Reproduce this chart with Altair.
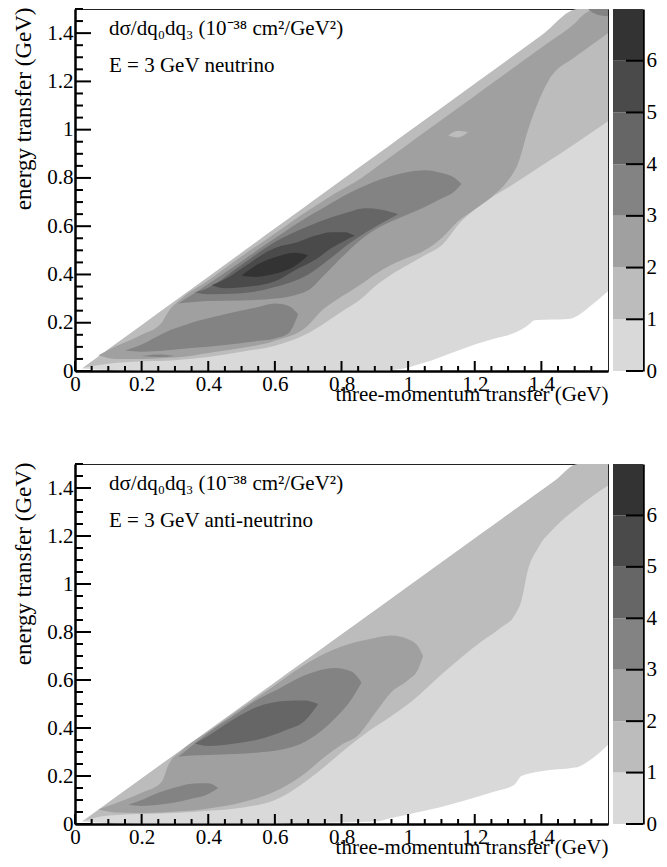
import altair as alt
import pandas as pd

FONT = "Liberation Serif"
FS = 21
LEVEL_COLORS = ["#d9d9d9", "#bcbcbc", "#a0a0a0", "#838383", "#666666", "#4a4a4a", "#333333"]
CBAR_LO = [0, 1, 2, 3, 4, 5, 6]
CBAR_HI = [1, 2, 3, 4, 5, 6, 7]
CBAR_TICKS = [0, 1, 2, 3, 4, 5, 6]

X_MAJOR = [0, 0.2, 0.4, 0.6, 0.8, 1.0, 1.2, 1.4]
X_MINOR = [0.05, 0.1, 0.15, 0.25, 0.3, 0.35, 0.45, 0.5, 0.55, 0.65, 0.7, 0.75,
           0.85, 0.9, 0.95, 1.05, 1.1, 1.15, 1.25, 1.3, 1.35, 1.45, 1.5, 1.55]
Y_MAJOR = [0, 0.2, 0.4, 0.6, 0.8, 1.0, 1.2, 1.4]
Y_MINOR = [0.05, 0.1, 0.15, 0.25, 0.3, 0.35, 0.45, 0.5, 0.55, 0.65, 0.7, 0.75,
           0.85, 0.9, 0.95, 1.05, 1.1, 1.15, 1.25, 1.3, 1.35, 1.45, 1.5]

# ---------------- neutrino (top panel) : contour bands (q3, lower q0, upper q0)
NU_L0_Q3 = [0.02, 0.1, 0.3, 0.6, 0.93, 1.0, 1.05, 1.13, 1.2, 1.26, 1.32, 1.36, 1.38, 1.48, 1.51, 1.53, 1.6]
NU_L0_LO = [0.01, 0.004, 0.003, 0.003, 0.003, 0.015, 0.035, 0.075, 0.11, 0.135, 0.158, 0.19, 0.21, 0.215, 0.23, 0.25, 0.33]
NU_L0_HI = [0.01, 0.09, 0.29, 0.59, 0.92, 0.99, 1.04, 1.12, 1.19, 1.25, 1.31, 1.35, 1.37, 1.47, 1.5, 1.5, 1.5]

NU_L1_Q3 = [0.025, 0.1, 0.2, 0.3, 0.4, 0.5, 0.6, 0.69, 0.74, 0.8, 0.86, 0.9, 0.95, 1.0, 1.05, 1.1, 1.16, 1.22, 1.3, 1.4, 1.51, 1.6]
NU_L1_LO = [0.013, 0.03, 0.04, 0.045, 0.058, 0.08, 0.105, 0.15, 0.19, 0.245, 0.30, 0.35, 0.40, 0.44, 0.48, 0.52, 0.62, 0.69, 0.76, 0.85, 0.95, 1.035]
NU_L1_HI = [0.013, 0.09, 0.19, 0.29, 0.39, 0.49, 0.59, 0.68, 0.73, 0.79, 0.85, 0.89, 0.94, 0.99, 1.04, 1.09, 1.15, 1.21, 1.29, 1.39, 1.5, 1.5]

NU_L2_Q3 = [0.07, 0.12, 0.2, 0.26, 0.28, 0.32, 0.4, 0.5, 0.6, 0.7, 0.74, 0.78, 0.86, 0.9, 0.95, 1.0, 1.05, 1.1, 1.15, 1.2, 1.25, 1.3, 1.33, 1.36, 1.42, 1.5, 1.53, 1.56, 1.6]
NU_L2_LO = [0.065, 0.05, 0.05, 0.053, 0.055, 0.058, 0.075, 0.095, 0.125, 0.19, 0.25, 0.29, 0.36, 0.40, 0.44, 0.47, 0.50, 0.55, 0.62, 0.67, 0.72, 0.79, 0.86, 1.0, 1.2, 1.30, 1.33, 1.36, 1.40]
NU_L2_HI = [0.065, 0.10, 0.15, 0.20, 0.245, 0.30, 0.375, 0.475, 0.57, 0.665, 0.70, 0.735, 0.80, 0.84, 0.89, 0.94, 0.99, 1.04, 1.09, 1.14, 1.19, 1.24, 1.27, 1.30, 1.36, 1.44, 1.48, 1.5, 1.5]

NU_HOLE_Q3 = [1.12, 1.15, 1.18]
NU_HOLE_LO = [0.975, 0.968, 0.99]
NU_HOLE_HI = [0.975, 0.995, 0.99]

NU_L3A_Q3 = [0.31, 0.35, 0.4, 0.5, 0.6, 0.7, 0.75, 0.8, 0.85, 0.9, 1.0, 1.05, 1.1, 1.14, 1.16]
NU_L3A_LO = [0.28, 0.285, 0.29, 0.292, 0.30, 0.335, 0.40, 0.47, 0.535, 0.585, 0.65, 0.68, 0.715, 0.745, 0.775]
NU_L3A_HI = [0.28, 0.315, 0.36, 0.455, 0.55, 0.64, 0.68, 0.72, 0.755, 0.785, 0.825, 0.832, 0.82, 0.80, 0.775]

NU_L3B_Q3 = [0.15, 0.2, 0.27, 0.35, 0.45, 0.55, 0.6, 0.64, 0.67]
NU_L3B_LO = [0.085, 0.08, 0.085, 0.095, 0.108, 0.125, 0.135, 0.155, 0.235]
NU_L3B_HI = [0.085, 0.11, 0.16, 0.20, 0.235, 0.265, 0.28, 0.27, 0.235]

NU_L3C_Q3 = [0.20, 0.25, 0.30]
NU_L3C_LO = [0.062, 0.058, 0.062]
NU_L3C_HI = [0.062, 0.068, 0.062]

NU_L3D_Q3 = [1.54, 1.57, 1.6]
NU_L3D_LO = [1.5, 1.475, 1.47]
NU_L3D_HI = [1.5, 1.5, 1.5]

NU_L4_Q3 = [0.36, 0.4, 0.5, 0.6, 0.7, 0.77, 0.82, 0.87, 0.92, 0.97]
NU_L4_LO = [0.325, 0.318, 0.322, 0.348, 0.40, 0.47, 0.525, 0.572, 0.612, 0.65]
NU_L4_HI = [0.325, 0.345, 0.44, 0.535, 0.60, 0.637, 0.658, 0.674, 0.668, 0.65]

NU_L5_Q3 = [0.41, 0.45, 0.5, 0.6, 0.67, 0.72, 0.77, 0.81, 0.84]
NU_L5_LO = [0.355, 0.343, 0.347, 0.372, 0.425, 0.46, 0.51, 0.54, 0.56]
NU_L5_HI = [0.355, 0.38, 0.425, 0.51, 0.535, 0.56, 0.575, 0.575, 0.56]

NU_L6_Q3 = [0.50, 0.54, 0.58, 0.62, 0.66, 0.70]
NU_L6_LO = [0.395, 0.39, 0.397, 0.41, 0.435, 0.48]
NU_L6_HI = [0.395, 0.435, 0.462, 0.48, 0.49, 0.48]

# ---------------- anti-neutrino (bottom panel)
NB_L0_Q3 = [0.02, 0.1, 0.3, 0.6, 0.9, 0.95, 1.0, 1.05, 1.13, 1.2, 1.26, 1.32, 1.34, 1.4, 1.5, 1.51, 1.54, 1.6]
NB_L0_LO = [0.01, 0.004, 0.003, 0.003, 0.01, 0.025, 0.04, 0.055, 0.082, 0.11, 0.135, 0.165, 0.2, 0.22, 0.235, 0.238, 0.26, 0.33]
NB_L0_HI = [0.01, 0.09, 0.29, 0.59, 0.89, 0.94, 0.99, 1.04, 1.12, 1.19, 1.25, 1.31, 1.33, 1.39, 1.49, 1.5, 1.5, 1.5]

NB_L1_Q3 = [0.025, 0.1, 0.2, 0.3, 0.4, 0.5, 0.6, 0.68, 0.75, 0.81, 0.88, 0.95, 1.01, 1.11, 1.22, 1.28, 1.32, 1.34, 1.36, 1.39, 1.44, 1.51, 1.6]
NB_L1_LO = [0.013, 0.035, 0.042, 0.046, 0.055, 0.068, 0.10, 0.165, 0.24, 0.31, 0.385, 0.45, 0.51, 0.635, 0.76, 0.82, 0.87, 0.93, 1.06, 1.15, 1.235, 1.32, 1.41]
NB_L1_HI = [0.013, 0.09, 0.19, 0.29, 0.39, 0.49, 0.59, 0.67, 0.74, 0.80, 0.87, 0.94, 1.0, 1.10, 1.21, 1.27, 1.31, 1.33, 1.35, 1.38, 1.43, 1.5, 1.5]

NB_L2_Q3 = [0.07, 0.12, 0.2, 0.26, 0.28, 0.32, 0.4, 0.5, 0.6, 0.68, 0.75, 0.8, 0.85, 0.9, 0.95, 1.0, 1.03, 1.045]
NB_L2_LO = [0.06, 0.048, 0.046, 0.048, 0.05, 0.053, 0.065, 0.09, 0.135, 0.20, 0.28, 0.33, 0.37, 0.46, 0.55, 0.60, 0.645, 0.70]
NB_L2_HI = [0.06, 0.085, 0.13, 0.175, 0.245, 0.305, 0.385, 0.483, 0.578, 0.655, 0.71, 0.74, 0.76, 0.775, 0.785, 0.77, 0.74, 0.70]

NB_L3A_Q3 = [0.31, 0.35, 0.4, 0.48, 0.55, 0.6, 0.7, 0.78, 0.83, 0.86]
NB_L3A_LO = [0.28, 0.285, 0.288, 0.292, 0.298, 0.305, 0.35, 0.44, 0.52, 0.59]
NB_L3A_HI = [0.28, 0.325, 0.38, 0.455, 0.52, 0.555, 0.625, 0.65, 0.635, 0.59]

NB_L3B_Q3 = [0.16, 0.2, 0.25, 0.3, 0.35, 0.4, 0.43]
NB_L3B_LO = [0.08, 0.075, 0.08, 0.09, 0.105, 0.125, 0.15]
NB_L3B_HI = [0.08, 0.10, 0.13, 0.152, 0.168, 0.17, 0.15]

NB_L4_Q3 = [0.36, 0.4, 0.48, 0.55, 0.63, 0.69, 0.73]
NB_L4_LO = [0.335, 0.325, 0.335, 0.352, 0.39, 0.43, 0.50]
NB_L4_HI = [0.335, 0.368, 0.44, 0.49, 0.513, 0.515, 0.50]

NU_REGIONS = [  # (level, q3, lo, hi) in drawing order
    (0, NU_L0_Q3, NU_L0_LO, NU_L0_HI),
    (1, NU_L1_Q3, NU_L1_LO, NU_L1_HI),
    (2, NU_L2_Q3, NU_L2_LO, NU_L2_HI),
    (1, NU_HOLE_Q3, NU_HOLE_LO, NU_HOLE_HI),
    (3, NU_L3A_Q3, NU_L3A_LO, NU_L3A_HI),
    (3, NU_L3B_Q3, NU_L3B_LO, NU_L3B_HI),
    (3, NU_L3C_Q3, NU_L3C_LO, NU_L3C_HI),
    (3, NU_L3D_Q3, NU_L3D_LO, NU_L3D_HI),
    (4, NU_L4_Q3, NU_L4_LO, NU_L4_HI),
    (5, NU_L5_Q3, NU_L5_LO, NU_L5_HI),
    (6, NU_L6_Q3, NU_L6_LO, NU_L6_HI),
]
NB_REGIONS = [
    (0, NB_L0_Q3, NB_L0_LO, NB_L0_HI),
    (1, NB_L1_Q3, NB_L1_LO, NB_L1_HI),
    (2, NB_L2_Q3, NB_L2_LO, NB_L2_HI),
    (3, NB_L3A_Q3, NB_L3A_LO, NB_L3A_HI),
    (3, NB_L3B_Q3, NB_L3B_LO, NB_L3B_HI),
    (4, NB_L4_Q3, NB_L4_LO, NB_L4_HI),
]

W = 533
CBW = 30
XS = alt.Scale(domain=[0, 1.6], nice=False, zero=False)
YS = alt.Scale(domain=[0, 1.5], nice=False, zero=False)

XAX = alt.Axis(values=X_MAJOR, format="~g", tickSize=0, grid=False,
               domainColor="black", domainWidth=2.5, labelFont=FONT,
               labelFontSize=FS, labelColor="black", labelPadding=2,
               labelFlush=False, labelOverlap=False,
               title="three-momentum transfer (GeV)", titleFont=FONT,
               titleFontSize=FS, titleFontWeight="normal", titleColor="black",
               titleAlign="right", titleX=W, titleY=29, titleBaseline="alphabetic")
YAX = alt.Axis(values=Y_MAJOR, format="~g", tickSize=0, grid=False,
               domainColor="black", domainWidth=2.5, labelFont=FONT,
               labelFontSize=FS, labelColor="black", labelPadding=2,
               labelFlush=False, labelOverlap=False,
               title="energy transfer (GeV)", titleFont=FONT,
               titleFontSize=23, titleFontWeight="normal", titleColor="black",
               titleAngle=270, titleAlign="right", titleX=-45, titleY=-2,
               titleBaseline="alphabetic")


def panel(regions, label, H):
    layers = []
    for lev, q3, lo, hi in regions:
        df = pd.DataFrame({"q3": q3, "lo": lo, "hi": hi})
        layers.append(
            alt.Chart(df).mark_area(color=LEVEL_COLORS[lev], interpolate="monotone",
                                    clip=True, strokeWidth=0).encode(
                x=alt.X("q3:Q", scale=XS, axis=XAX),
                y=alt.Y("lo:Q", scale=YS, axis=YAX),
                y2="hi:Q",
            )
        )

    def xt(vals, ln):
        return alt.Chart(pd.DataFrame({"q3": vals})).mark_rule(color="black", strokeWidth=2).encode(
            x=alt.X("q3:Q", scale=XS, axis=XAX), y=alt.value(H), y2=alt.value(H - ln))

    def yt(vals, ln):
        return alt.Chart(pd.DataFrame({"lo": vals})).mark_rule(color="black", strokeWidth=2).encode(
            y=alt.Y("lo:Q", scale=YS, axis=YAX), x=alt.value(0), x2=alt.value(ln))

    layers += [xt(X_MAJOR, 10), xt(X_MINOR, 5), yt(Y_MAJOR, 16), yt(Y_MINOR, 8)]
    one = pd.DataFrame({"a": [0]})
    layers.append(alt.Chart(one).mark_text(
        text="dσ/dq₀dq₃ (10⁻³⁸ cm²/GeV²)", font=FONT, fontSize=FS, align="left",
        baseline="alphabetic", color="black").encode(x=alt.value(34), y=alt.value(26)))
    layers.append(alt.Chart(one).mark_text(
        text=label, font=FONT, fontSize=FS, align="left",
        baseline="alphabetic", color="black").encode(x=alt.value(34), y=alt.value(63)))
    main = alt.layer(*layers).properties(
        width=W, height=H, view=alt.ViewBackground(stroke="#222222", strokeWidth=1))

    cb = pd.DataFrame({"lo": CBAR_LO, "hi": CBAR_HI, "lev": CBAR_LO})
    cs = alt.Scale(domain=[0, 7], nice=False, zero=False)
    cax = alt.Axis(orient="right", values=CBAR_TICKS, format="d",
                   tickSize=0, grid=False, domainColor="black",
                   domainWidth=2.5, labelFont=FONT, labelFontSize=FS,
                   labelColor="black", labelPadding=3,
                   labelFlush=False, title=None)
    bar = alt.Chart(cb).mark_rect().encode(
        y=alt.Y("lo:Q", scale=cs, axis=cax),
        y2="hi:Q",
        x=alt.value(0), x2=alt.value(CBW),
        color=alt.Color("lev:O", scale=alt.Scale(domain=CBAR_LO, range=LEVEL_COLORS), legend=None),
    )
    cticks = alt.Chart(pd.DataFrame({"lo": CBAR_TICKS})).mark_rule(color="black", strokeWidth=2).encode(
        y=alt.Y("lo:Q", scale=cs, axis=cax), x=alt.value(CBW - 17), x2=alt.value(CBW))
    cbar = alt.layer(bar, cticks).properties(
        width=CBW, height=H, view=alt.ViewBackground(stroke=None))
    return alt.hconcat(main, cbar, spacing=4)


top = panel(NU_REGIONS, "E = 3 GeV neutrino", 362)
bot = panel(NB_REGIONS, "E = 3 GeV anti-neutrino", 360)

chart = alt.vconcat(top, bot, spacing=56).properties(
    padding={"left": 3, "top": -2, "right": 2, "bottom": 2}
).configure_view(stroke=None).configure(background="white")

chart.save("out.html", embed_options={"renderer": "svg", "actions": False})
